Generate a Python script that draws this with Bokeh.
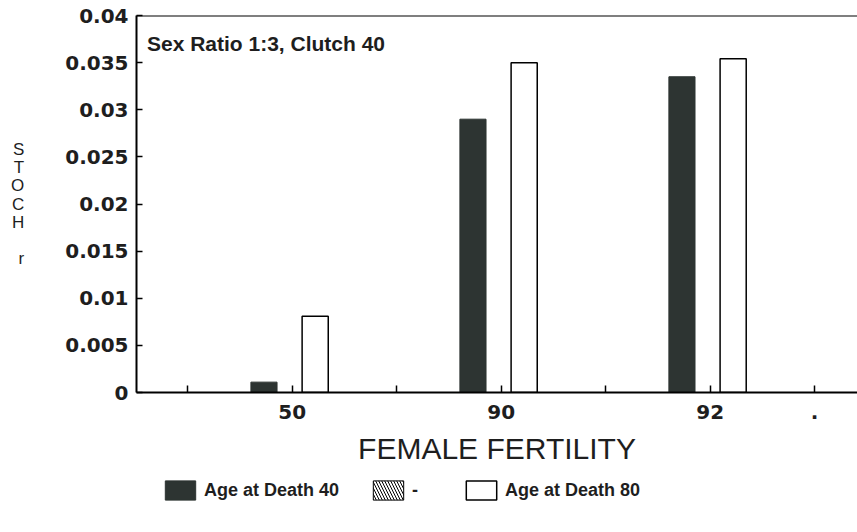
from bokeh.plotting import figure
from bokeh.layouts import column
from bokeh.models import (Range1d, FixedTicker, Legend, LegendItem,
                          ColumnDataSource, Label, Span)
from bokeh.transform import dodge
from bokeh.embed import file_html
from bokeh.resources import INLINE

# ---- data ----
categories = ["50", "90", "92"]
age_death_40 = [0.0011, 0.029, 0.0335]
hatched_series = [0.0, 0.0, 0.0]
age_death_80 = [0.0081, 0.035, 0.0354]
y_ticks = [0, 0.005, 0.01, 0.015, 0.02, 0.025, 0.03, 0.035, 0.04]
y_tick_labels = ["0", "0.005", "0.01", "0.015", "0.02", "0.025", "0.03", "0.035", "0.04"]
x_ticks = [0.5, 1, 1.5, 2, 2.5, 3, 3.5]
x_tick_labels = ["", "50", "", "90", "", "92", "."]
series_names = ["Age at Death 40", "-", "Age at Death 80"]
title_text = "Sex Ratio 1:3, Clutch 40"
y_title = "S\nT\nO\nC\nH\n\nr"

source = ColumnDataSource(dict(
    x=[i + 1 for i in range(len(categories))],
    a40=age_death_40, hat=hatched_series, a80=age_death_80,
))

INK = "#1e1e1e"
DARK = "#2d3432"


def add_bars(fig):
    b1 = fig.vbar(x=dodge("x", -0.135, range=fig.x_range), top="a40", width=0.125, source=source,
                  fill_color=DARK, line_color=DARK)
    b2 = fig.vbar(x=dodge("x", -0.01, range=fig.x_range), top="hat", width=0.125, source=source,
                  fill_color="white", line_color="black", hatch_pattern="\\",
                  hatch_color="black", hatch_scale=6, hatch_weight=1)
    b3 = fig.vbar(x=dodge("x", 0.11, range=fig.x_range), top="a80", width=0.125, source=source,
                  fill_color="white", line_color="black", line_width=1.5)
    return b1, b2, b3


p = figure(width=857, height=468, x_range=Range1d(0.255, 3.705), y_range=Range1d(0, 0.04),
           output_backend="svg", toolbar_location=None,
           min_border_left=136, min_border_right=0, min_border_top=15, min_border_bottom=76)
p.outline_line_color = None
p.grid.visible = False
p.background_fill_color = "white"
add_bars(p)

# y axis
yax = p.yaxis[0]
yax.ticker = FixedTicker(ticks=y_ticks)
yax.major_label_overrides = {t: l for t, l in zip(y_ticks, y_tick_labels)}
yax.major_label_text_font = "DejaVu Sans"
yax.major_label_text_font_style = "bold"
yax.major_label_text_font_size = "20px"
yax.major_label_text_color = INK
yax.major_tick_in = 6
yax.major_tick_out = 0
yax.minor_tick_line_color = None
yax.axis_line_width = 2
yax.major_tick_line_width = 1.5
yax.major_label_standoff = 8
yax.axis_label = y_title
yax.axis_label_orientation = "horizontal"
yax.axis_label_text_font = "Liberation Sans"
yax.axis_label_text_font_style = "normal"
yax.axis_label_text_font_size = "17px"
yax.axis_label_text_line_height = 0.95
yax.axis_label_text_color = INK
yax.axis_label_standoff = 38

# x axis
xax = p.xaxis[0]
xax.ticker = FixedTicker(ticks=x_ticks)
xax.major_label_overrides = {t: l for t, l in zip(x_ticks, x_tick_labels)}
xax.major_label_text_font = "DejaVu Sans"
xax.major_label_text_font_style = "bold"
xax.major_label_text_font_size = "20px"
xax.major_label_text_color = INK
xax.major_tick_in = 7
xax.major_tick_out = 0
xax.minor_tick_line_color = None
xax.axis_line_width = 2
xax.major_tick_line_width = 1.5
xax.major_label_standoff = 12
xax.axis_label = "FEMALE FERTILITY"
xax.axis_label_text_font = "Liberation Sans"
xax.axis_label_text_font_style = "normal"
xax.axis_label_text_font_size = "30px"
xax.axis_label_text_color = INK
xax.axis_label_standoff = 10

# top border line
p.add_layout(Span(location=y_ticks[-1], dimension="width", line_color="black", line_width=2))

p.add_layout(Label(x=0.305, y=0.0383, text=title_text, text_baseline="top",
                   text_font="Liberation Sans", text_font_style="bold",
                   text_font_size="21px", text_color=INK))

# legend strip below the chart (its bars fall outside its own empty range)
lg = figure(width=857, height=64, x_range=Range1d(0, 1), y_range=Range1d(10, 11),
            output_backend="svg", toolbar_location=None,
            min_border_left=0, min_border_right=0, min_border_top=0, min_border_bottom=0)
lg.axis.visible = False
lg.grid.visible = False
lg.outline_line_color = None
l1, l2, l3 = add_bars(lg)
legend = Legend(items=[LegendItem(label=series_names[0], renderers=[l1]),
                       LegendItem(label=series_names[1], renderers=[l2]),
                       LegendItem(label=series_names[2], renderers=[l3])],
                orientation="horizontal", location=(25, 30), border_line_color=None,
                background_fill_alpha=0, glyph_width=38, glyph_height=24,
                label_standoff=5, spacing=30, padding=8, margin=0,
                label_text_font="Liberation Sans", label_text_font_style="bold",
                label_text_font_size="18px", label_text_color=INK)
lg.add_layout(legend, "center")

page = column(p, lg, spacing=0)
open("out.html", "w").write(file_html(page, INLINE))
